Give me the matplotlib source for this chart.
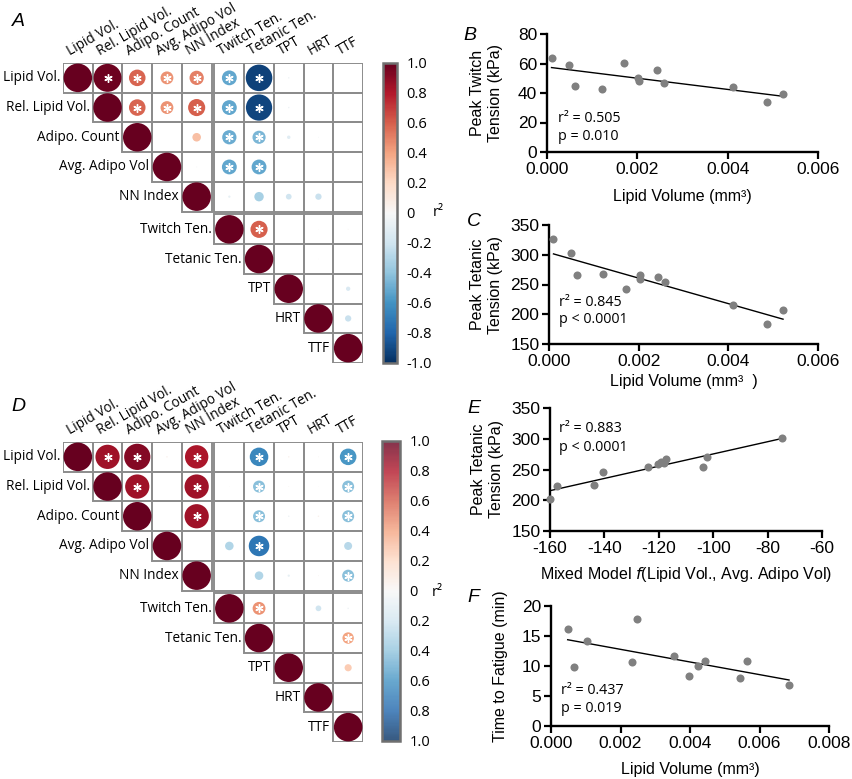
import numpy as np
import matplotlib
matplotlib.use("Agg")
import matplotlib.pyplot as plt
from matplotlib.patches import Circle, Rectangle
from matplotlib.colors import Normalize
from matplotlib.cm import ScalarMappable

W, H = 852, 779
LABEL_FONT = ["Open Sans", "DejaVu Sans"]
AX_FONT = ["Liberation Sans", "DejaVu Sans"]

# ---------------- data ----------------
labels = ["Lipid Vol.", "Rel. Lipid Vol.", "Adipo. Count", "Avg. Adipo Vol", "NN Index",
          "Twitch Ten.", "Tetanic Ten.", "TPT", "HRT", "TTF"]

# upper triangle rows of panel A (starting at the diagonal)
corr_a = [
    [1.0, 0.98, 0.58, 0.45, 0.50, -0.52, -0.93, -0.05, 0.0, 0.0],
    [1.0, 0.58, 0.45, 0.60, -0.52, -0.92, -0.05, 0.0, 0.0],
    [1.0, 0.0, 0.30, -0.50, -0.46, -0.12, -0.03, 0.0],
    [1.0, -0.03, -0.52, -0.52, 0.0, 0.0, 0.0],
    [1.0, -0.08, -0.33, -0.20, -0.22, 0.0],
    [1.0, 0.60, 0.0, 0.02, 0.03],
    [1.0, 0.0, 0.02, 0.0],
    [1.0, 0.0, -0.15],
    [1.0, -0.22],
    [1.0],
]
sig_a = [[1, 2, 3, 4, 5, 6], [2, 3, 4, 5, 6], [5, 6], [5, 6], [], [6], [], [], [], []]

# upper triangle rows of panel D
corr_d = [
    [1.0, 0.85, 0.92, 0.05, 0.82, 0.0, -0.65, 0.05, 0.03, -0.58],
    [1.0, 0.85, 0.0, 0.85, 0.02, -0.42, 0.03, 0.02, -0.42],
    [1.0, 0.0, 0.85, 0.0, -0.42, -0.05, 0.05, -0.42],
    [1.0, 0.0, -0.30, -0.72, 0.0, 0.0, -0.28],
    [1.0, 0.0, -0.30, -0.08, 0.03, -0.42],
    [1.0, 0.45, 0.0, -0.20, -0.05],
    [1.0, 0.0, 0.0, 0.40],
    [1.0, 0.0, 0.25],
    [1.0, 0.0],
    [1.0],
]
sig_d = [[1, 2, 4, 6, 9], [2, 4, 6, 9], [4, 6, 9], [6], [9], [6], [9], [], [], []]

cbar_ticks = [1.0, 0.8, 0.6, 0.4, 0.2, 0.0, -0.2, -0.4, -0.6, -0.8, -1.0]
cbar_a_labels = ["1.0", "0.8", "0.6", "0.4", "0.2", "0", "-0.2", "-0.4", "-0.6", "-0.8", "-1.0"]
cbar_d_labels = ["1.0", "0.8", "0.6", "0.4", "0.2", "0", "0.2", "0.4", "0.6", "0.8", "1.0"]

# Panel B
b_x = [0.0001, 0.00048, 0.00061, 0.00122, 0.00171, 0.00202, 0.00203, 0.00244, 0.00258, 0.00411, 0.00487, 0.00522]
b_y = [63.5, 58.9, 44.6, 42.8, 60.5, 49.9, 47.8, 55.3, 46.9, 44.0, 34.0, 39.2]
# Panel C
c_x = [0.0001, 0.00048, 0.00062, 0.00121, 0.00171, 0.00202, 0.00203, 0.00244, 0.00258, 0.0041, 0.00486, 0.00522]
c_y = [327.1, 302.5, 266.8, 267.9, 242.2, 266.2, 260.0, 262.3, 253.9, 215.9, 184.1, 207.5]
# Panel E
e_x = [-160.0, -157.6, -143.8, -140.4, -124.0, -120.3, -119.3, -118.0, -117.4, -103.9, -102.1, -74.7]
e_y = [202.2, 223.4, 224.5, 246.2, 253.3, 258.7, 262.0, 260.5, 266.8, 253.8, 270.7, 301.1]
# Panel F
f_x = [0.00048, 0.00066, 0.00103, 0.00232, 0.00248, 0.00354, 0.00396, 0.00424, 0.00443, 0.00545, 0.00565, 0.00685]
f_y = [16.2, 9.86, 14.24, 10.75, 17.78, 11.75, 8.37, 9.97, 10.86, 7.98, 10.80, 6.76]

# ---------------- figure ----------------
fig = plt.figure(figsize=(W / 100, H / 100), dpi=100)


def ax_px(l, t, r, b):
    return fig.add_axes([l / W, 1 - b / H, (r - l) / W, (b - t) / H])


def px(x, y):
    return x / W, 1 - y / H


cmap = plt.get_cmap("RdBu_r")
norm = Normalize(-1, 1)
GAP = 0.1
HM_FS = 9.8


def cpos(i):
    return i + (GAP if i >= 5 else 0)


def draw_corr(ax, rows, sig):
    n = len(labels)
    for i in range(n):
        for k, v in enumerate(rows[i]):
            j = i + k
            x0, y0 = cpos(j), cpos(i)
            ax.add_patch(Rectangle((x0, y0), 1, 1, fill=False, ec="#8c8c8c", lw=1.4, zorder=1))
            r = 0.48 * abs(v)
            if r > 0.004:
                ax.add_patch(Circle((x0 + 0.5, y0 + 0.5), r, fc=cmap(norm(v)), ec="none", zorder=2))
            if j in sig[i]:
                ax.plot(x0 + 0.5, y0 + 0.5, marker=(6, 2, 0), ms=6, mew=1.0,
                        color="white", zorder=3)
    for j, lab in enumerate(labels):
        ax.text(cpos(j) + 0.3, -0.15, lab, rotation=30, rotation_mode="anchor",
                ha="left", va="bottom", fontsize=HM_FS, family=LABEL_FONT)
        ax.text(cpos(j) - 0.1, cpos(j) + 0.5, lab, ha="right", va="center",
                fontsize=HM_FS, family=LABEL_FONT)
    ax.set_xlim(0, 10 + GAP)
    ax.set_ylim(10 + GAP, 0)
    ax.axis("off")


def draw_cbar(cax, tick_labels, alpha):
    sm = ScalarMappable(norm=norm, cmap=cmap)
    cb = fig.colorbar(sm, cax=cax, alpha=alpha)
    cb.set_ticks(cbar_ticks)
    cb.set_ticklabels(tick_labels)
    cb.ax.tick_params(length=0, pad=7)
    for t in cb.ax.get_yticklabels():
        t.set_fontfamily(LABEL_FONT)
        t.set_fontsize(10.5)
    cb.outline.set_edgecolor("#707070")
    cb.outline.set_linewidth(1.8)
    return cb


ax_a = ax_px(63, 63, 363, 363)
draw_corr(ax_a, corr_a, sig_a)
cax_a = ax_px(383, 63, 397, 363)
draw_cbar(cax_a, cbar_a_labels, 1.0)
fig.text(*px(433, 213), "r\u00b2", fontsize=10.5, family=LABEL_FONT, ha="left", va="center")

ax_d = ax_px(63, 442, 363, 742)
draw_corr(ax_d, corr_d, sig_d)
cax_d = ax_px(382, 441, 400, 741)
draw_cbar(cax_d, cbar_d_labels, 0.8)
fig.text(*px(432, 592), "r\u00b2", fontsize=10.5, family=LABEL_FONT, ha="left", va="center")


def scatter_panel(ax, x, y, xlim, ylim, xticks, yticks, xfmt, ylabel, xlabel, ylp, xlp):
    x = np.array(x)
    y = np.array(y)
    ax.plot(x, y, "o", ms=5.8, color="#808080", mec="none", zorder=3, clip_on=False)
    m, c = np.polyfit(x, y, 1)
    xs = np.array([x.min(), x.max()])
    ax.plot(xs, m * xs + c, color="black", lw=1.0, zorder=2)
    ax.set_xlim(*xlim)
    ax.set_ylim(*ylim)
    ax.set_xticks(xticks)
    ax.set_yticks(yticks)
    ax.set_xticklabels([xfmt.format(v) for v in xticks])
    for s in ["top", "right"]:
        ax.spines[s].set_visible(False)
    for s in ["left", "bottom"]:
        ax.spines[s].set_linewidth(1.7)
    ax.tick_params(direction="out", length=5, width=1.6, labelsize=12.5, pad=2)
    for t in ax.get_xticklabels() + ax.get_yticklabels():
        t.set_fontfamily(AX_FONT)
    ax.set_ylabel(ylabel, fontsize=11.5, family=AX_FONT, labelpad=ylp, linespacing=1.25)
    ax.set_xlabel(xlabel, fontsize=11.5, family=AX_FONT, labelpad=xlp)


ax_b = ax_px(547, 34, 818, 152)
scatter_panel(ax_b, b_x, b_y, (0, 0.006), (0, 80), [0, 0.002, 0.004, 0.006], [0, 20, 40, 60, 80],
              "{:.3f}", "Peak Twitch\nTension (kPa)", "Lipid Volume (mm\u00b3)", 11, 9)
ax_c = ax_px(549, 225, 818, 344)
scatter_panel(ax_c, c_x, c_y, (0, 0.006), (150, 350), [0, 0.002, 0.004, 0.006],
              [150, 200, 250, 300, 350], "{:.3f}", "Peak Tetanic\nTension (kPa)",
              "Lipid Volume (mm\u00b3  )", 5, 4)
ax_e = ax_px(550, 408, 822, 531)
scatter_panel(ax_e, e_x, e_y, (-160, -60), (150, 350), [-160, -140, -120, -100, -80, -60],
              [150, 200, 250, 300, 350], "{:.0f}", "Peak Tetanic\nTension (kPa)",
              "Mixed Model $\\mathit{f}$(Lipid Vol., Avg. Adipo Vol)", 5, 7)
ax_f = ax_px(551, 606, 829, 726)
scatter_panel(ax_f, f_x, f_y, (0, 0.008), (0, 20), [0, 0.002, 0.004, 0.006, 0.008],
              [0, 5, 10, 15, 20], "{:.3f}", "Time to Fatigue (min)", "Lipid Volume (mm\u00b3)", 10, 8)

ann = [
    ((558, 119), "r\u00b2 = 0.505"), ((558, 137), "p = 0.010"),
    ((559, 302), "r\u00b2 = 0.845"), ((559, 319), "p < 0.0001"),
    ((559, 429), "r\u00b2 = 0.883"), ((559, 447), "p < 0.0001"),
    ((561, 690), "r\u00b2 = 0.437"), ((561, 708), "p = 0.019"),
]
for (xx, yy), s in ann:
    fig.text(*px(xx, yy), s, fontsize=10.3, family=LABEL_FONT, ha="left", va="center")

letters = [((18, 22), "A"), ((470, 35), "B"), ((474, 222), "C"),
           ((18, 407), "D"), ((474, 408), "E"), ((473, 598), "F")]
for (xx, yy), s in letters:
    fig.text(*px(xx, yy), s, fontsize=14, family=AX_FONT, style="italic",
             ha="center", va="center")

fig.savefig("out.png", dpi=100)
